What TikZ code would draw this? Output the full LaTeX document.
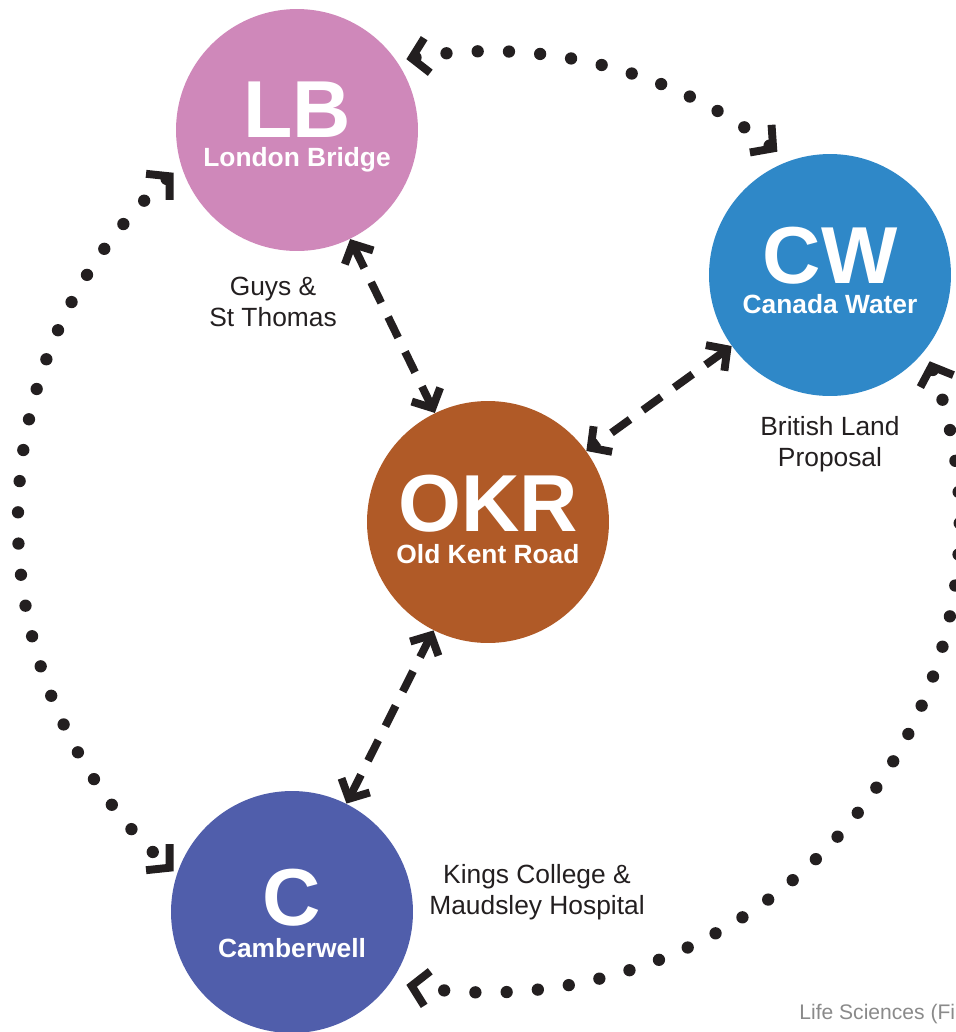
\documentclass[tikz,border=0pt]{standalone}
\usepackage{fontspec}
\setmainfont{Liberation Sans}
\usetikzlibrary{calc,arrows.meta}

\definecolor{lbpink}{HTML}{CF88BA}
\definecolor{cwblue}{HTML}{2F88C8}
\definecolor{okrbrown}{HTML}{B05A27}
\definecolor{cindigo}{HTML}{505EAB}
\definecolor{ink}{HTML}{231F20}
\definecolor{footgray}{HTML}{8A8A8A}

\begin{document}
\begin{tikzpicture}[x=0.02cm, y=0.02cm,
    station/.style={circle, inner sep=0pt, minimum size=4.84cm, fill=#1},
    abbr/.style={text=white, font=\bfseries\fontsize{46}{46}\selectfont, anchor=base, inner sep=0pt, text depth=0pt},
    fullname/.style={text=white, font=\bfseries\fontsize{15}{17}\selectfont, anchor=base, inner sep=0pt, text height=10.5pt},
    note/.style={text=ink, font=\fontsize{15}{18}\selectfont, align=center},
    link/.style={draw=ink, line width=4.5pt, dash pattern=on 13pt off 9pt, {Straight Barb[length=8.5pt, width=18pt, line width=4.5pt]}-{Straight Barb[length=8.5pt, width=18pt, line width=4.5pt]}},
    ring/.style={draw=ink, line width=7pt, line cap=round, dash pattern=on 0pt off 17.8pt, {Straight Barb[length=9pt, width=20pt, line width=4.5pt, line cap=butt]}-{Straight Barb[length=9pt, width=20pt, line width=4.5pt, line cap=butt]}}]

    \useasboundingbox (0,0) rectangle (956,-1032);
    \clip (0,0) rectangle (956,-1032);

    % the four hubs
    \node[station=lbpink]   (lb)  at (297,-130) {};
    \node[station=cwblue]   (cw)  at (830,-275) {};
    \node[station=okrbrown] (okr) at (488,-522) {};
    \node[station=cindigo]  (c)   at (292,-912) {};

    \node[abbr] (lbabbr)  at ($(lb)+(0,-7)$)  {LB};
    \node[fullname] (lbname)  at ($(lb)+(0,-36)$) {London Bridge};
    \node[abbr] (cwabbr)  at ($(cw)+(0,-8)$)  {CW};
    \node[fullname] (cwname)  at ($(cw)+(0,-38)$) {Canada Water};
    \node[abbr] (okrabbr) at ($(okr)+(0,-9)$) {OKR};
    \node[fullname] (okrname) at ($(okr)+(0,-41)$) {Old Kent Road};
    \node[abbr] (cabbr)   at ($(c)+(0,-13)$)  {C};
    \node[fullname] (cname)   at ($(c)+(0,-45)$)  {Camberwell};

    % partner notes
    \node[note] (guys)    at (273,-302) {Guys \&\\St Thomas};
    \node[note] (british) at (830,-444) {British Land\\Proposal};
    \node[note] (kings)   at (537,-892) {Kings College \&\\Maudsley Hospital};

    % spokes into OKR
    \draw[link] (lb) -- (okr);
    \draw[link] (cw) -- (okr);
    \draw[link] (c) -- (okr);

    % outer dotted ring
    \draw[ring] ([shift={(100:470)}]okr.center) arc[start angle=100, end angle=52, radius=470];
    \draw[ring] ([shift={(132:470)}]okr.center) arc[start angle=132, end angle=228, radius=470];
    \draw[ring] ([shift={(20:470)}]okr.center) arc[start angle=20, end angle=-100, radius=470];

    \node[text=footgray, font=\fontsize{12}{14}\selectfont, anchor=base west, inner sep=0pt] (foot) at (799,-1019) {Life Sciences (Fi};

\end{tikzpicture}
\end{document}
